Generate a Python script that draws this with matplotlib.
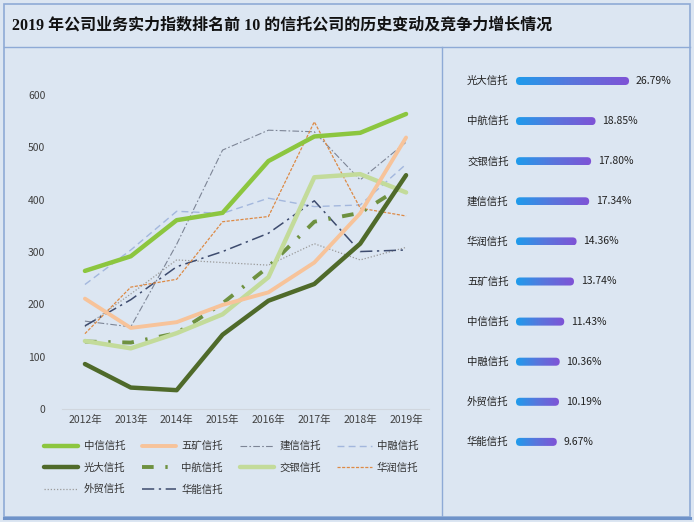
import numpy as np
import matplotlib
matplotlib.use("Agg")
import matplotlib.pyplot as plt
from matplotlib.patches import Rectangle, FancyBboxPatch
from matplotlib.lines import Line2D
from matplotlib.colors import LinearSegmentedColormap

plt.rcParams['font.family'] = ['Noto Sans CJK SC', 'DejaVu Sans']

# ---- datos ----
years = ['2012年', '2013年', '2014年', '2015年', '2016年', '2017年', '2018年', '2019年']
zhongxin = [264, 292, 361, 375, 474, 521, 528, 564]
wukuang = [211, 155, 166, 199, 223, 280, 374, 519]
jianxin = [168, 157, 315, 495, 533, 530, 438, 510]
zhongrong = [238, 304, 378, 374, 403, 387, 390, 468]
guangda = [86, 41, 36, 142, 207, 239, 316, 447]
zhonghang = [129, 127, 145, 202, 272, 358, 375, 430]
jiaoyin = [130, 116, 145, 181, 252, 443, 449, 414]
huarun = [144, 233, 248, 358, 368, 549, 384, 369]
waimao = [157, 220, 285, 280, 275, 316, 285, 309]
huaneng = [159, 209, 272, 301, 336, 398, 301, 304]

rank_names = ['光大信托', '中航信托', '交银信托', '建信信托', '华润信托',
              '五矿信托', '中信信托', '中融信托', '外贸信托', '华能信托']
rank_growth = [26.79, 18.85, 17.80, 17.34, 14.36, 13.74, 11.43, 10.36, 10.19, 9.67]

BG = '#dce6f2'
BORDER = '#8eaad6'
W, H = 694, 522

fig = plt.figure(figsize=(W / 100, H / 100), dpi=100, facecolor=BG)

def fx(px):
    return px / W

def fy(py):
    return 1 - py / H

# ---- marcos ----
fig.add_artist(Rectangle((fx(4), fy(517)), fx(686), (513) / H, fill=False,
                         edgecolor=BORDER, lw=1.2, transform=fig.transFigure))
fig.add_artist(Line2D([fx(4), fx(690)], [fy(47), fy(47)], color=BORDER, lw=1.0,
                      transform=fig.transFigure))
fig.add_artist(Line2D([fx(442), fx(442)], [fy(47), fy(517)], color=BORDER, lw=1.0,
                      transform=fig.transFigure))
fig.add_artist(Line2D([fx(4), fx(690)], [fy(518), fy(518)], color='#6f93c9', lw=2.2,
                      transform=fig.transFigure))

fig.text(fx(12), fy(26), '2019 年公司业务实力指数排名前 10 的信托公司的历史变动及竞争力增长情况',
         fontsize=11.5, fontweight='bold', va='center', ha='left', color='#111111',
         family=['Liberation Serif', 'Noto Sans CJK SC'])

# ---- grafico de lineas ----
ax = fig.add_axes([fx(62), fy(409), 367 / W, 340 / H])
ax.set_facecolor(BG)
x = np.arange(len(years))

series = [
    ('中信信托', zhongxin, dict(color='#8cc63f', lw=3.2, ls='-')),
    ('光大信托', guangda, dict(color='#4f6a2a', lw=3.2, ls='-')),
    ('外贸信托', waimao, dict(color='#9a9a9a', lw=0.9, ls=(0, (1, 1.5)))),
    ('五矿信托', wukuang, dict(color='#f7c39a', lw=2.8, ls='-')),
    ('中航信托', zhonghang, dict(color='#6e9140', lw=2.8, ls=(0, (3, 3, 0.6, 3)))),
    ('华能信托', huaneng, dict(color='#3d4b6e', lw=1.1, ls=(0, (8, 3, 1.5, 3)))),
    ('建信信托', jianxin, dict(color='#7d8596', lw=0.8, ls=(0, (6, 2, 1.5, 2)))),
    ('交银信托', jiaoyin, dict(color='#c3db9a', lw=3.2, ls='-')),
    ('中融信托', zhongrong, dict(color='#a3b7dd', lw=1.0, ls=(0, (5, 3)))),
    ('华润信托', huarun, dict(color='#dd8a45', lw=0.9, ls=(0, (2.5, 1.2)))),
]
draw_order = ['外贸信托', '建信信托', '中融信托', '华能信托', '华润信托',
              '中航信托', '交银信托', '五矿信托', '光大信托', '中信信托']
handles = {}
for name, vals, st in series:
    ln, = ax.plot(x, vals, solid_capstyle='round', dash_capstyle='butt', label=name,
                  zorder=2 + draw_order.index(name), **st)
    handles[name] = ln

ax.set_xlim(-0.5, 7.5)
ax.set_ylim(0, 650)
ax.set_yticks(range(0, 601, 100))
ax.set_xticks(x)
ax.set_xticklabels(years)
ax.tick_params(length=0, labelsize=7.5, colors='#404040')
ax.tick_params(axis='y', pad=12)
ax.tick_params(axis='x', pad=4)
for s in ['top', 'right', 'left']:
    ax.spines[s].set_visible(False)
ax.spines['bottom'].set_color('#d0d6de')
ax.spines['bottom'].set_linewidth(0.8)

order = [s[0] for s in series]
leg = fig.legend([handles[n] for n in order], order, ncol=4,
                 loc='upper left', bbox_to_anchor=(fx(44), fy(441)),
                 frameon=False, fontsize=7.5, handlelength=3.3,
                 handletextpad=0.5, columnspacing=1.6, labelspacing=1.1,
                 borderaxespad=0, borderpad=0)
for t in leg.get_texts():
    t.set_color('#333333')

# ---- ranking de crecimiento ----
bx = fig.add_axes([fx(442), fy(517), 248 / W, 470 / H])
bx.set_facecolor('none')
bx.axis('off')
unit = 4.22  # px por %

cmap = LinearSegmentedColormap.from_list('g', ['#1e9cec', '#5a74dc', '#8052d6'])
grad = np.linspace(0, 1, 256).reshape(1, -1)
bh = 0.2
for i, (name, g) in enumerate(zip(rank_names, rank_growth)):
    patch = FancyBboxPatch((0, i - bh / 2), g, bh,
                           boxstyle='round,pad=0,rounding_size=0.95',
                           mutation_aspect=0.105, fc='none', ec='none')
    bx.add_patch(patch)
    im = bx.imshow(grad, cmap=cmap, aspect='auto', extent=(0, g, i + bh / 2, i - bh / 2),
                   interpolation='bilinear')
    im.set_clip_path(patch)
    bx.text(-(516 - 467) / unit, i, name, fontsize=7.5, va='center', ha='left', color='#222222')
    bx.text(g + 1.6, i, f'{g:.2f}%', fontsize=7.5, va='center', ha='left', color='#222222')

bx.set_xlim(-(516 - 442) / unit, (690 - 516) / unit)
bx.set_ylim((517 - 81) / 40.1, -(81 - 47) / 40.1)

fig.savefig('out.png', dpi=100, facecolor=BG)
